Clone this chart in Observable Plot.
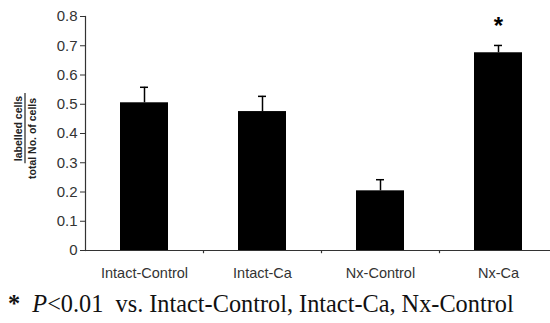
<!DOCTYPE html>
<html>
<head>
<meta charset="utf-8">
<script src="https://cdn.jsdelivr.net/npm/d3@7"></script>
<script src="https://cdn.jsdelivr.net/npm/@observablehq/plot@0.6"></script>
<style>
  html, body { margin: 0; padding: 0; background: #fff; overflow: hidden; width: 550px; height: 323px; }
  #chart { width: 558px; }
  #chart svg { display: block; max-width: none !important; }
  #caption { font-family: "Liberation Serif", "Times New Roman", serif; font-size: 24.3px; color: #111; position: absolute; left: 8px; top: 290px; white-space: nowrap; }
</style>
</head>
<body>
<div id="chart"></div>
<div id="caption"><b>*</b>&nbsp; <i>P</i>&lt;0.01&nbsp; vs. Intact-Control, Intact-Ca, Nx-Control</div>
<script>
const categories = ["Intact-Control", "Intact-Ca", "Nx-Control", "Nx-Ca"];
const values = [0.505, 0.475, 0.204, 0.676];
const upper = [0.558, 0.527, 0.242, 0.701];
const significant = [false, false, false, true];
const yTicks = [0, 0.1, 0.2, 0.3, 0.4, 0.5, 0.6, 0.7, 0.8];

const data = categories.map((c, i) => ({cat: c, value: values[i], upper: upper[i], sig: significant[i]}));

const W = 558, H = 285;
const chart = Plot.plot({
  width: W,
  height: H,
  marginLeft: 85,
  marginRight: 1,
  marginTop: 16,
  marginBottom: 35,
  style: {fontFamily: "Liberation Sans, Arial, sans-serif", background: "white", overflow: "visible", maxWidth: "none"},
  x: {domain: categories, paddingInner: 0.593, paddingOuter: 0.2965, align: 0.5, axis: null},
  y: {domain: [0, 0.8], axis: null},
  marks: [
    Plot.barY(data, {x: "cat", y: "value", fill: "black"}),
    Plot.ruleX(data, {x: "cat", y1: "value", y2: "upper", stroke: "black", strokeWidth: 1.5}),
    Plot.tickY(data, {x: "cat", y: "upper", stroke: "black", strokeWidth: 1.5, insetLeft: 20, insetRight: 20}),
    Plot.text(data.filter(d => d.sig), {x: "cat", y: "upper", text: () => "*", dy: -19, fontSize: 24, fontWeight: "bold", fill: "black"}),
    Plot.frame({anchor: "left", stroke: "#333", strokeWidth: 1.2}),
    Plot.frame({anchor: "bottom", stroke: "#333", strokeWidth: 1.2}),
    Plot.axisY(yTicks, {tickSize: 5, tickPadding: 3, fontSize: 15, fill: "#333", stroke: "#333", tickFormat: d => d === 0 ? "0" : d.toFixed(1), label: null}),
    Plot.axisX(categories, {tickSize: 0, tickPadding: 17, fontSize: 14.5, fill: "#333", label: null}),
    Plot.ruleX(categories.slice(0, 3), {x: d => d, dx: 59, y1: 0, y2: -0.011, stroke: "#333", strokeWidth: 1.2}),
    Plot.text(["labelled cells"], {frameAnchor: "left", textAnchor: "middle", dx: -66.5, y: 0.417, rotate: -90, fontSize: 10.5, fontWeight: "bold", fill: "#222"}),
    Plot.ruleX([0], {x: null, frameAnchor: "left", y1: 0.297, y2: 0.537, stroke: "#222", strokeWidth: 1.2, render: (index, scales, values, dims, ctx, next) => {
      const g = next(index, scales, values, dims, ctx);
      d3.select(g).selectAll("line").attr("x1", 24.5).attr("x2", 24.5);
      return g;
    }}),
    Plot.text(["total No. of cells"], {frameAnchor: "left", textAnchor: "middle", dx: -53, y: 0.383, rotate: -90, fontSize: 10.5, fontWeight: "bold", fill: "#222"})
  ]
});
document.getElementById("chart").appendChild(chart);
</script>
</body>
</html>
